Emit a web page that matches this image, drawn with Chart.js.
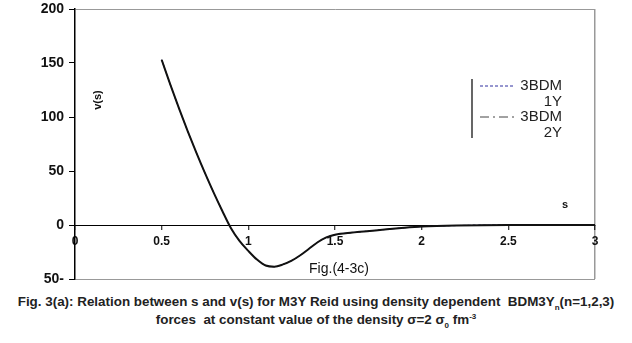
<!DOCTYPE html>
<html>
<head>
<meta charset="utf-8">
<script src="https://cdn.jsdelivr.net/npm/chart.js@4.4.1/dist/chart.umd.min.js"></script>
<style>
    body { margin: 0; background: #fff; width: 632px; height: 343px; overflow: hidden; }
    #wrap { position: relative; width: 632px; height: 290px; }
    .caption {
        font-family: "Liberation Sans", Arial, sans-serif;
        font-weight: bold;
        font-size: 13.4px;
        line-height: 18px;
        text-align: center;
        color: #222;
        padding-top: 3px;
    }
    .caption sub, .caption sup { font-size: 8px; line-height: 0; }
</style>
</head>
<body>
<div id="wrap"><canvas id="chartV"></canvas></div>
<div class="caption">
    Fig. 3(a): Relation between s and v(s) for M3Y Reid using density dependent&nbsp; BDM3Y<sub>n</sub>(n=1,2,3)<br>
    forces&nbsp; at constant value of the density &sigma;=2 &sigma;<sub>0</sub> fm<sup>-3</sup>
</div>
<script>
// s (fm) and v(s) (MeV)
var sValues = [0.5, 0.55, 0.6, 0.65, 0.7, 0.75, 0.8, 0.85, 0.9, 0.95, 1.0, 1.05, 1.1, 1.15, 1.2, 1.25, 1.3, 1.35, 1.4, 1.45, 1.5, 1.6, 1.7, 1.8, 1.9, 2.0, 2.2, 2.5, 3.0];
var v1Y = [153, 130, 108, 87, 67, 48, 30, 13, -3, -15, -24, -32, -37.5, -38.6, -36.5, -33, -28, -22, -16, -11.5, -9, -7, -5.5, -4, -2.6, -1.5, -0.5, 0, 0];
var v2Y = [153, 130, 108, 87, 67, 48, 30, 13, -3, -15, -24, -32, -37.5, -38.6, -36.5, -33, -28, -22, -16, -11.5, -9, -7, -5.5, -4, -2.6, -1.5, -0.5, 0, 0];
var v3Y = [153, 130, 108, 87, 67, 48, 30, 13, -3, -15, -24, -32, -37.5, -38.6, -36.5, -33, -28, -22, -16, -11.5, -9, -7, -5.5, -4, -2.6, -1.5, -0.5, 0, 0];

var seriesLabels = ["3BDM 1Y", "3BDM 2Y", "3BDM 3Y"];
var xTicks = [0, 0.5, 1, 1.5, 2, 2.5, 3];
var yTicks = [-50, 0, 50, 100, 150, 200];

var fontName = "'Liberation Sans', Arial, sans-serif";

function toPoints(arr) {
    var pts = [];
    for (var i = 0; i < arr.length; i++) {
        pts.push({ x: sValues[i], y: arr[i] });
    }
    return pts;
}

// legend box, axis names and figure tag
var extraText = {
    id: 'extraText',
    afterDraw: function(chart) {
        var ctx = chart.ctx;
        ctx.save();
        ctx.fillStyle = '#111';

        ctx.font = "bold 11px " + fontName;
        ctx.textAlign = 'center';
        ctx.textBaseline = 'middle';
        ctx.save();
        ctx.translate(98, 100);
        ctx.rotate(-Math.PI / 2);
        ctx.fillText('v(s)', 0, 0);
        ctx.restore();
        ctx.fillText('s', 565, 205);

        ctx.font = "14px " + fontName;
        ctx.fillText('Fig.(4-3c)', 339, 269);

        // legend
        ctx.strokeStyle = '#000';
        ctx.lineWidth = 1.2;
        ctx.beginPath();
        ctx.moveTo(472, 79);
        ctx.lineTo(472, 138);
        ctx.stroke();

        ctx.font = "15px " + fontName;
        ctx.textAlign = 'right';
        for (var i = 0; i < 2; i++) {
            var ds = chart.data.datasets[i];
            var rowY = 86 + i * 31;
            ctx.strokeStyle = ds.borderColor;
            ctx.lineWidth = 1;
            ctx.setLineDash(ds.borderDash);
            ctx.beginPath();
            ctx.moveTo(480, rowY);
            ctx.lineTo(515, rowY);
            ctx.stroke();
            ctx.setLineDash([]);
            var parts = ds.label.split(' ');
            ctx.fillStyle = '#222';
            ctx.fillText(parts[0], 562, rowY);
            ctx.fillText(parts[1], 562, rowY + 16);
        }
        ctx.restore();
    }
};

new Chart(document.getElementById('chartV'), {
    type: 'line',
    data: {
        datasets: [{
            label: seriesLabels[0],
            data: toPoints(v1Y),
            borderColor: '#2e2ea0',
            borderWidth: 1,
            borderDash: [3, 2],
            pointRadius: 0,
            cubicInterpolationMode: 'monotone',
            order: 2
        }, {
            label: seriesLabels[1],
            data: toPoints(v2Y),
            borderColor: '#444',
            borderWidth: 1,
            borderDash: [9, 4, 2, 4],
            pointRadius: 0,
            cubicInterpolationMode: 'monotone',
            order: 1
        }, {
            label: seriesLabels[2],
            data: toPoints(v3Y),
            borderColor: '#111',
            borderWidth: 2,
            pointRadius: 0,
            cubicInterpolationMode: 'monotone',
            order: 0
        }]
    },
    options: {
        responsive: true,
        maintainAspectRatio: false,
        animation: false,
        layout: { padding: { top: 9, right: 37, bottom: 11, left: 0 } },
        plugins: {
            legend: { display: false },
            tooltip: { enabled: false }
        },
        scales: {
            x: {
                type: 'linear',
                position: { y: 0 },
                min: 0,
                max: 3,
                afterBuildTicks: function(axis) {
                    axis.ticks = xTicks.map(function(v) { return { value: v }; });
                },
                afterFit: function(axis) {
                    axis.paddingLeft = 0;
                    axis.paddingRight = 0;
                },
                ticks: {
                    color: '#111',
                    padding: 5,
                    maxRotation: 0,
                    font: { family: fontName, size: 12, weight: 'bold' },
                    callback: function(v) { return String(v); }
                },
                border: { color: '#000', width: 1 },
                grid: {
                    color: function(c) { return c.tick && c.tick.value === 3 ? '#999' : 'rgba(0,0,0,0)'; },
                    lineWidth: 1.5,
                    tickColor: '#000',
                    tickLength: 4,
                    tickWidth: 1
                }
            },
            y: {
                type: 'linear',
                min: -50,
                max: 200,
                afterBuildTicks: function(axis) {
                    axis.ticks = yTicks.map(function(v) { return { value: v }; });
                },
                afterFit: function(axis) {
                    axis.width = 75;
                    axis.paddingTop = 0;
                    axis.paddingBottom = 0;
                },
                ticks: {
                    color: '#111',
                    padding: 5,
                    font: { family: fontName, size: 14, weight: 'bold' },
                    callback: function(v) { return v < 0 ? Math.abs(v) + '-' : v; }
                },
                border: { color: '#000', width: 1.5 },
                grid: {
                    color: function(c) {
                        if (!c.tick) return 'rgba(0,0,0,0)';
                        if (c.tick.value === 0) return '#000';
                        if (c.tick.value === 200 || c.tick.value === -50) return '#999';
                        return 'rgba(0,0,0,0)';
                    },
                    tickColor: '#000',
                    tickLength: 6
                }
            }
        }
    },
    plugins: [extraText]
});
</script>
</body>
</html>
